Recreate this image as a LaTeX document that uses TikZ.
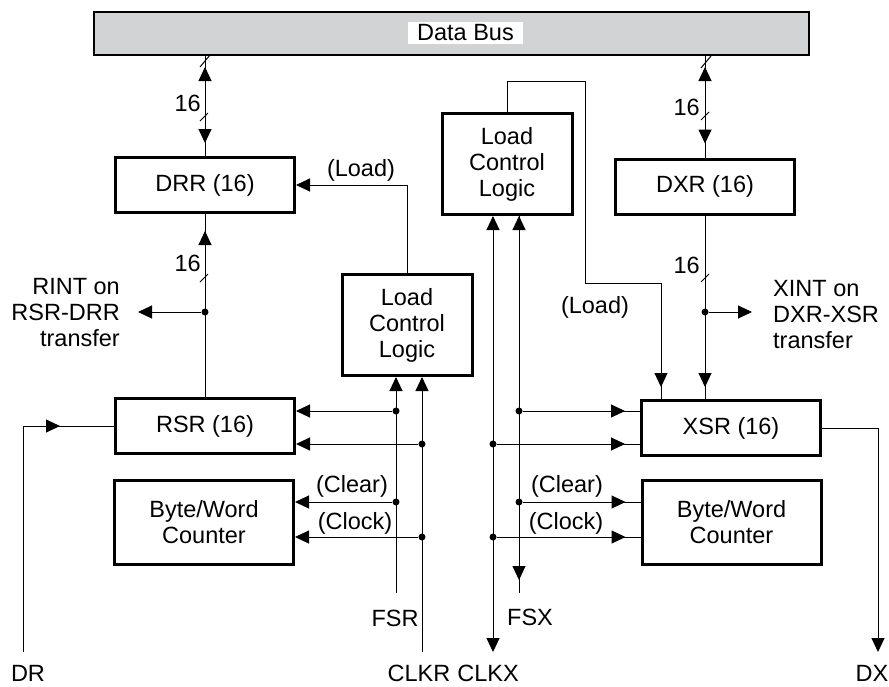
\documentclass[tikz,border=0pt]{standalone}
\usepackage{fontspec}
\setmainfont{Liberation Sans}
\usetikzlibrary{arrows.meta}

\definecolor{busgray}{RGB}{209,211,212}

\begin{document}
\begin{tikzpicture}[x=1pt,y=-1pt,
        font=\fontsize{23.5}{26}\selectfont,
        >={Triangle[length=14pt,width=13pt]},
        block/.style={draw,line width=3pt,minimum width=179pt,minimum height=55pt,inner sep=0pt,align=center},
        lcl/.style={block,minimum width=130pt,minimum height=101pt},
        counter/.style={block,minimum height=84pt},
        wire/.style={line width=1pt},
        dot/.style={circle,fill,minimum size=7pt,inner sep=0pt},
        txt/.style={inner sep=0pt,align=center}]

    \useasboundingbox (0,0) rectangle (889,686);

    \node[draw,line width=2pt,fill=busgray,minimum width=715pt,minimum height=43pt] (bus) at (451.5,33.5) {};
    \node[fill=white,inner sep=0pt,minimum width=115pt,minimum height=22pt] (buslabel) at (465.5,33) {Data Bus};

    \node[block] (drr) at (205,185) {DRR (16)};
    \node[block] (rsr) at (205,426) {RSR (16)};
    \node[counter] (bwcR) at (204,522.5) {Byte/Word\\Counter};
    \node[lcl] (lclR) at (407,325) {Load\\Control\\Logic};
    \node[lcl] (lclX) at (507,164) {Load\\Control\\Logic};
    \node[block] (dxr) at (705,186.5) {DXR (16)};
    \node[block] (xsr) at (731,428) {XSR (16)};
    \node[counter] (bwcX) at (731.5,522.5) {Byte/Word\\Counter};

    \draw[wire] (bus.south -| drr.north) -- (drr.north);
    \draw[wire,<->,shorten <=11pt,shorten >=13pt] (bus.south -| drr.north) -- (drr.north);
    \draw[wire] (bus.south -| dxr.north) -- (dxr.north);
    \draw[wire,<->,shorten <=11pt,shorten >=14pt] (bus.south -| dxr.north) -- (dxr.north);
    \draw[wire] (rsr.north) -- (drr.south);
    \draw[wire,->,shorten >=17pt] (rsr.north) -- (drr.south);
    \draw[wire] (dxr.south) -- (xsr.north -| dxr.south);
    \draw[wire,->,shorten >=12pt] (dxr.south) -- (xsr.north -| dxr.south);

    \foreach \p in {(205,61),(706,62)}
        \draw[wire] \p +(-5,6) -- +(5,-6);
    \foreach \p in {(204,117),(204,278),(705,116),(705,278)}
        \draw[wire] \p +(-4,4) -- +(4,-4);

    \node[txt,anchor=east] (w1) at (201,103) {16};
    \node[txt,anchor=east] (w2) at (201,263) {16};
    \node[txt,anchor=east] (w3) at (700,107) {16};
    \node[txt,anchor=east] (w4) at (700,265) {16};

    \node[dot] (jr) at (205,312) {};
    \coordinate (rintEnd) at (138,312);
    \draw[wire,->] (jr) -- (rintEnd);
    \node[txt,anchor=east,align=right] (rint) at (120,313) {RINT on\\RSR-DRR\\transfer};

    \node[dot] (jx) at (705,312) {};
    \coordinate (xintEnd) at (752,312);
    \draw[wire,->] (jx) -- (xintEnd);
    \node[txt,anchor=west,align=left] (xint) at (773,315) {XINT on\\DXR-XSR\\transfer};

    \draw[wire,->] (lclR.north) |- (drr.east);
    \node[txt] (loadR) at (361,170) {(Load)};

    \coordinate (ldX) at (661,283);
    \draw[wire] (lclX.north) |- (585,81) |- (ldX) -- (ldX |- xsr.north);
    \draw[wire,->,shorten >=12pt] (ldX) -- (ldX |- xsr.north);
    \node[txt] (loadX) at (595,307) {(Load)};

    \coordinate (dr) at (23,652);
    \coordinate (fsr) at (396,593);
    \coordinate (clkr) at (422,652);
    \coordinate (clkx) at (493,652);
    \coordinate (fsx) at (519,593);
    \coordinate (dx) at (878,652);

    \draw[wire] (dr) |- (rsr.west);
    \draw[wire,->,shorten >=54pt] (dr |- rsr.west) -- (rsr.west);
    \draw[wire,->] (fsr) -- (fsr |- lclR.south);
    \draw[wire,->] (clkr) -- (clkr |- lclR.south);
    \draw[wire,<->] (clkx |- lclX.south) -- (clkx);
    \draw[wire] (fsx |- lclX.south) -- (fsx);
    \draw[wire,<->,shorten >=13pt] (fsx |- lclX.south) -- (fsx);
    \draw[wire,->] (xsr.east) -| (dx);

    \node[dot] (fr1) at (396,411) {};
    \node[dot] (ck1) at (422,444) {};
    \node[dot] (fr2) at (396,502) {};
    \node[dot] (ck2) at (422,537) {};
    \node[dot] (fx1) at (519,411) {};
    \node[dot] (cx1) at (493,444) {};
    \node[dot] (fx2) at (519,502) {};
    \node[dot] (cx2) at (493,537) {};

    \foreach \d/\b in {fr1/rsr,ck1/rsr,fr2/bwcR,ck2/bwcR}
        \draw[wire,->] (\d) -- (\d -| \b.east);
    \foreach \d/\b in {fx1/xsr,cx1/xsr,fx2/bwcX,cx2/bwcX} {
        \draw[wire] (\d) -- (\d -| \b.west);
        \draw[wire,->,shorten >=15pt] (\d) -- (\d -| \b.west);
    }

    \node[txt] (clearR) at (352,486) {(Clear)};
    \node[txt] (clockR) at (355,523) {(Clock)};
    \node[txt] (clearX) at (567,486) {(Clear)};
    \node[txt] (clockX) at (566,523) {(Clock)};

    \node[txt] (drLbl) at (28,673) {DR};
    \node[txt] (fsrLbl) at (395,618) {FSR};
    \node[txt] (clkrLbl) at (419,673) {CLKR};
    \node[txt] (clkxLbl) at (488,673) {CLKX};
    \node[txt] (fsxLbl) at (530,617) {FSX};
    \node[txt] (dxLbl) at (872,673) {DX};
\end{tikzpicture}
\end{document}
